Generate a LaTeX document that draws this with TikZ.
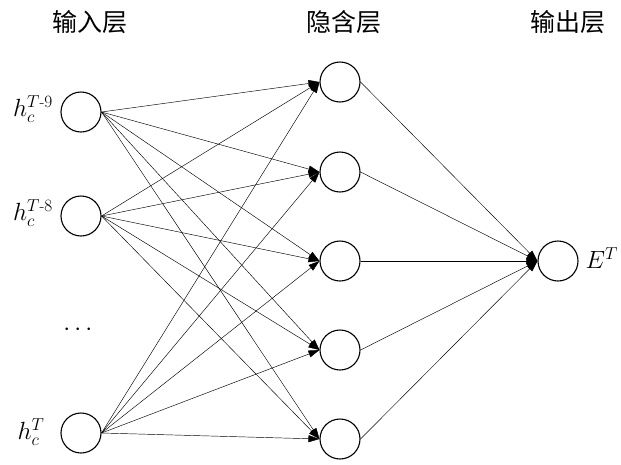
\documentclass[tikz,border=0pt]{standalone}
\usepackage{amsmath}
\usepackage{fontspec}
\newfontfamily\cjk{Noto Sans CJK SC}
\usetikzlibrary{arrows.meta}
\begin{document}
\begin{tikzpicture}[x=1pt,y=-1pt,
  neuron/.style={circle,draw,line width=1.1pt,minimum size=40pt,inner sep=0pt},
  conn/.style={line width=0.45pt,-{Triangle[length=11pt,width=7pt]}},
  title/.style={font=\cjk\fontsize{25}{25}\selectfont},
  lab/.style={font=\fontsize{23}{23}\selectfont}]
\useasboundingbox (0,0) rectangle (621,464);
% titles
\node[title] (t1) at (90,22) {输入层};
\node[title] (t2) at (344,22) {隐含层};
\node[title] (t3) at (568,22) {输出层};
% input
\node[neuron] (i1) at (81,112) {};
\node[neuron] (i2) at (81,216) {};
\node[neuron] (i3) at (81,433) {};
% hidden
\node[neuron] (h1) at (340,82) {};
\node[neuron] (h2) at (340,172) {};
\node[neuron] (h3) at (340,261) {};
\node[neuron] (h4) at (340,350) {};
\node[neuron] (h5) at (340,439) {};
% output
\node[neuron] (o) at (558,261) {};
% labels
\node[lab] (l1) at (33,109) {$h_c^{T\text{-}9}$};
\node[lab] (l2) at (33,213) {$h_c^{T\text{-}8}$};
\node[lab] (l3) at (31,432) {$h_c^{T}$};
\node[lab] (dots) at (80,330) {$\cdots$};
\node[lab,anchor=west] (le) at (582,258) {$E^{T}$};
% connections
\foreach \i in {i1,i2,i3}{
  \foreach \h in {h1,h2,h3,h4,h5}{
    \draw[conn] (\i.east) -- (\h.west);
  }
}
\foreach \h in {h1,h2,h3,h4,h5}{
  \draw[conn] (\h.east) -- (o.west);
}
\end{tikzpicture}
\end{document}
